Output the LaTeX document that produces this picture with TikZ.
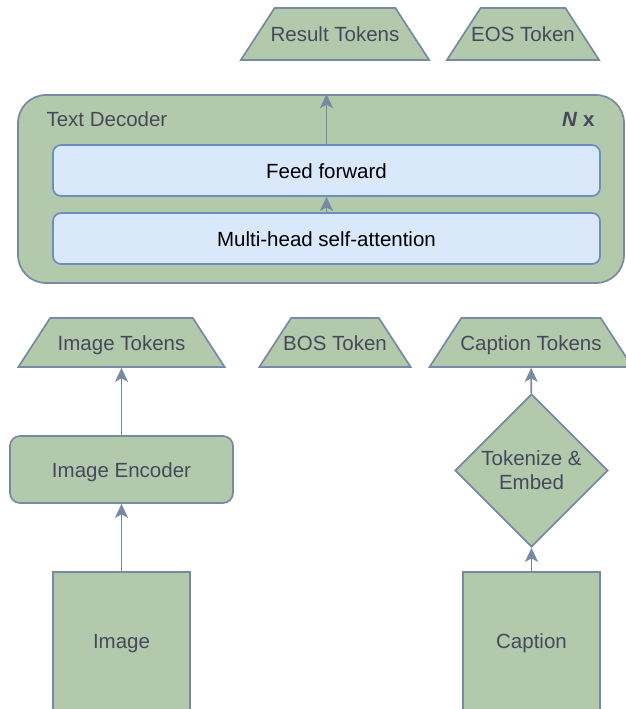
\documentclass[tikz,border=0pt]{standalone}
\usepackage{fontspec}
\setmainfont{Liberation Sans}
\usetikzlibrary{arrows.meta,positioning,shapes.geometric}
\definecolor{sage}{HTML}{B2C9AB}
\definecolor{slate}{HTML}{788AA3}
\definecolor{ink}{HTML}{46495D}
\definecolor{paleblue}{HTML}{DAE8FC}
\definecolor{midblue}{HTML}{6C8EBF}

\begin{document}
\begin{tikzpicture}[
    x=1pt, y=-1pt,
    font=\fontsize{20.5}{24}\selectfont,
    >={Stealth[length=14pt,width=13pt,inset=3.5pt]},
    lbl/.style={text height=15pt, text depth=0pt},
    blk/.style={draw=slate, fill=sage, text=ink, line width=1.7pt, inner sep=0pt, align=center},
    tok/.style={blk, lbl, trapezium, trapezium angle=57, inner ysep=18.5pt},
    lowtok/.style={tok, inner ysep=17pt},
    layer/.style={lbl, draw=midblue, fill=paleblue, text=black, rounded corners=8pt, line width=1.7pt, minimum width=547pt, minimum height=51pt},
    arr/.style={->, line width=1.8pt, draw=slate}
  ]
  \useasboundingbox (0,0) rectangle (625,709);

  % --- TEXT DECODER ---
  \node[blk, rounded corners=28pt, minimum width=606pt, minimum height=188pt] (decoder) at (321,189) {};
  \node[lbl, text=ink, anchor=west] (dec_label) at (43,119) {Text Decoder};
  \node[lbl, text=ink, anchor=east] (reps) at (598,119) {\textbf{\textit{N} x}};
  \node[layer] (ffwd) at (326.5,170.5) {Feed forward};
  \node[layer] (mhsa) at (326.5,238.5) {Multi-head self-attention};

  % --- OUTPUT TOKENS ---
  \node[tok, inner xsep=-4pt] (result) at (335,34) {Result Tokens};
  \node[tok, inner xsep=-9.5pt] (eos) at (523,34) {EOS Token};

  % --- INPUT TOKENS ---
  \node[lowtok, inner xsep=7.5pt] (imgtok) at (121.5,342.5) {Image Tokens};
  \node[lowtok, inner xsep=-8pt] (bos) at (335,342.5) {BOS Token};
  \node[lowtok, inner xsep=-1pt] (captok) at (531,342.5) {Caption Tokens};

  % --- ENCODERS ---
  \node[blk, lbl, rounded corners=10pt, minimum width=223pt, minimum height=67pt] (imgenc) at (121.5,469.5) {Image Encoder};
  \node[blk, diamond, aspect=1, minimum width=153pt, minimum height=153pt] (tokemb) at (531.5,470.5) {Tokenize \&\\Embed};

  % --- INPUTS ---
  \node[blk, lbl, minimum width=137pt, minimum height=138pt] (img) at (121.5,641) {Image};
  \node[blk, lbl, minimum width=137pt, minimum height=138pt] (caption) at (531.5,641) {Caption};

  % --- CONNECTIONS ---
  \draw[arr] (img) -- (imgenc);
  \draw[arr] (imgenc) -- (imgtok);
  \draw[arr] (caption) -- (tokemb);
  \draw[arr] (tokemb) -- (captok);
  \draw[arr] (mhsa) -- (ffwd);
  \draw[arr] (ffwd.north) -- (ffwd.north |- decoder.north);

\end{tikzpicture}
\end{document}
